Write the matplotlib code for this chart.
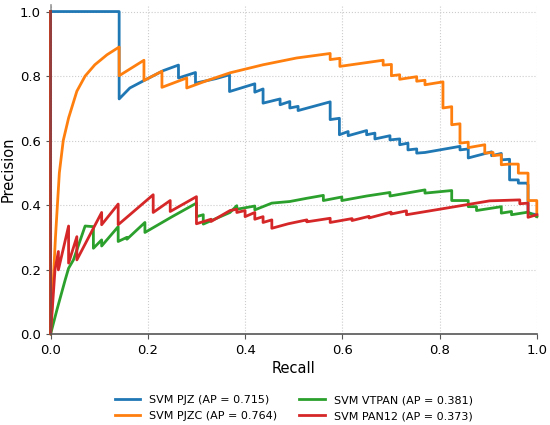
import numpy as np
import matplotlib
matplotlib.use('Agg')
import matplotlib.pyplot as plt

# precision / recall vertices
pjz_recall = [0.0, 0.141, 0.141, 0.163, 0.192, 0.232, 0.263, 0.263, 0.298, 0.298, 0.340, 0.368,
              0.368, 0.420, 0.420, 0.437, 0.437, 0.472, 0.472, 0.492, 0.492, 0.509, 0.509, 0.575,
              0.575, 0.594, 0.594, 0.612, 0.612, 0.650, 0.650, 0.667, 0.667, 0.698, 0.698, 0.718,
              0.718, 0.735, 0.735, 0.753, 0.753, 0.770, 0.842, 0.842, 0.859, 0.859, 0.907, 0.907,
              0.927, 0.927, 0.944, 0.944, 0.962, 0.962, 0.979, 0.982, 0.982, 1.0]
pjz_prec = [1.0, 1.0, 0.729, 0.763, 0.786, 0.817, 0.834, 0.794, 0.811, 0.778, 0.792, 0.804,
            0.752, 0.776, 0.750, 0.760, 0.716, 0.729, 0.711, 0.721, 0.701, 0.706, 0.693, 0.720,
            0.665, 0.669, 0.618, 0.628, 0.615, 0.631, 0.618, 0.623, 0.605, 0.615, 0.602, 0.605,
            0.587, 0.592, 0.571, 0.574, 0.561, 0.563, 0.582, 0.571, 0.574, 0.546, 0.565, 0.553,
            0.560, 0.540, 0.542, 0.478, 0.478, 0.468, 0.468, 0.463, 0.375, 0.370]

pjzc_recall = [0.0, 0.0, 0.004, 0.010, 0.018, 0.026, 0.037, 0.054, 0.071, 0.091, 0.116, 0.141,
               0.141, 0.192, 0.192, 0.229, 0.229, 0.280, 0.280, 0.320, 0.369, 0.437, 0.506, 0.575,
               0.575, 0.595, 0.595, 0.684, 0.684, 0.701, 0.701, 0.718, 0.718, 0.753, 0.753, 0.770,
               0.770, 0.807, 0.807, 0.825, 0.825, 0.842, 0.842, 0.859, 0.859, 0.893, 0.893, 0.910,
               0.910, 0.927, 0.927, 0.944, 0.962, 0.962, 0.982, 0.982, 1.0, 1.0]
pjzc_prec = [1.0, 0.0, 0.12, 0.30, 0.50, 0.60, 0.67, 0.753, 0.80, 0.835, 0.866, 0.890,
             0.801, 0.849, 0.786, 0.815, 0.765, 0.794, 0.763, 0.785, 0.810, 0.835, 0.856, 0.870,
             0.851, 0.855, 0.830, 0.849, 0.834, 0.836, 0.801, 0.804, 0.790, 0.798, 0.784, 0.787,
             0.773, 0.782, 0.701, 0.705, 0.649, 0.652, 0.592, 0.595, 0.578, 0.587, 0.561, 0.563,
             0.553, 0.556, 0.525, 0.527, 0.527, 0.499, 0.499, 0.414, 0.414, 0.364]

vtpan_recall = [0.0, 0.0, 0.013, 0.030, 0.037, 0.047, 0.071, 0.088, 0.088, 0.105, 0.105, 0.139,
                0.139, 0.157, 0.157, 0.194, 0.194, 0.250, 0.300, 0.300, 0.314, 0.314, 0.369, 0.383,
                0.383, 0.420, 0.420, 0.455, 0.492, 0.527, 0.561, 0.561, 0.599, 0.599, 0.650, 0.698,
                0.698, 0.770, 0.770, 0.825, 0.825, 0.859, 0.859, 0.876, 0.876, 0.927, 0.927, 0.948,
                0.948, 0.982, 1.0]
vtpan_prec = [1.0, 0.0, 0.075, 0.168, 0.204, 0.230, 0.335, 0.333, 0.266, 0.292, 0.273, 0.333,
              0.287, 0.300, 0.294, 0.346, 0.315, 0.364, 0.406, 0.364, 0.370, 0.341, 0.377, 0.398,
              0.387, 0.397, 0.385, 0.406, 0.411, 0.421, 0.430, 0.414, 0.425, 0.414, 0.428, 0.439,
              0.428, 0.447, 0.437, 0.445, 0.414, 0.414, 0.395, 0.395, 0.383, 0.395, 0.375, 0.380,
              0.370, 0.378, 0.364]

pan12_recall = [0.0, 0.0, 0.009, 0.016, 0.016, 0.037, 0.037, 0.054, 0.054, 0.105, 0.105, 0.139,
                0.139, 0.211, 0.211, 0.246, 0.246, 0.300, 0.300, 0.330, 0.330, 0.369, 0.383, 0.383,
                0.400, 0.400, 0.420, 0.420, 0.437, 0.437, 0.455, 0.455, 0.489, 0.527, 0.527, 0.575,
                0.575, 0.620, 0.620, 0.655, 0.655, 0.700, 0.700, 0.732, 0.732, 0.800, 0.903, 0.965,
                0.965, 0.982, 0.982, 1.0]
pan12_prec = [1.0, 0.0, 0.199, 0.256, 0.199, 0.335, 0.220, 0.302, 0.230, 0.377, 0.339, 0.403,
              0.339, 0.432, 0.377, 0.414, 0.380, 0.426, 0.342, 0.356, 0.349, 0.383, 0.387, 0.377,
              0.383, 0.364, 0.377, 0.356, 0.364, 0.346, 0.354, 0.328, 0.342, 0.354, 0.348, 0.359,
              0.346, 0.358, 0.352, 0.365, 0.360, 0.378, 0.372, 0.382, 0.370, 0.387, 0.413, 0.416,
              0.404, 0.406, 0.362, 0.370]

labels = ['SVM PJZ (AP = 0.715)', 'SVM PJZC (AP = 0.764)',
          'SVM VTPAN (AP = 0.381)', 'SVM PAN12 (AP = 0.373)']
colors = ['#1f77b4', '#ff7f0e', '#2ca02c', '#d62728']

fig = plt.figure(figsize=(5.5, 4.25), dpi=100)
ax = fig.add_axes([0.092, 0.214, 0.884, 0.774])

curves = [(pjz_recall, pjz_prec), (pjzc_recall, pjzc_prec),
          (vtpan_recall, vtpan_prec), (pan12_recall, pan12_prec)]
for (r, p), lab, c in zip(curves, labels, colors):
    ax.plot(r, p, color=c, lw=2, label=lab, clip_on=False)

ax.set_xlim(0, 1.0)
ax.set_ylim(0, 1.02)
ax.set_xticks(np.arange(0, 1.01, 0.2))
ax.set_yticks(np.arange(0, 1.01, 0.2))
ax.grid(True, ls=':', color='#cccccc', lw=0.8)
ax.set_axisbelow(True)
for s in ['top', 'right']:
    ax.spines[s].set_visible(False)
for s in ['left', 'bottom']:
    ax.spines[s].set_color('#555555')
    ax.spines[s].set_linewidth(1.2)
ax.spines['left'].set_alpha(0.6)
ax.tick_params(colors='#555555', labelcolor='black', labelsize=9.5)
ax.set_xlabel('Recall', fontsize=10.5, labelpad=3)
ax.set_ylabel('Precision', fontsize=10.5, labelpad=3)

ax.legend(loc='upper center', bbox_to_anchor=(0.5, -0.155), ncol=2, frameon=False,
          fontsize=8, columnspacing=2.0, handlelength=2.3, labelspacing=0.55)

fig.savefig('out.png', dpi=100)
